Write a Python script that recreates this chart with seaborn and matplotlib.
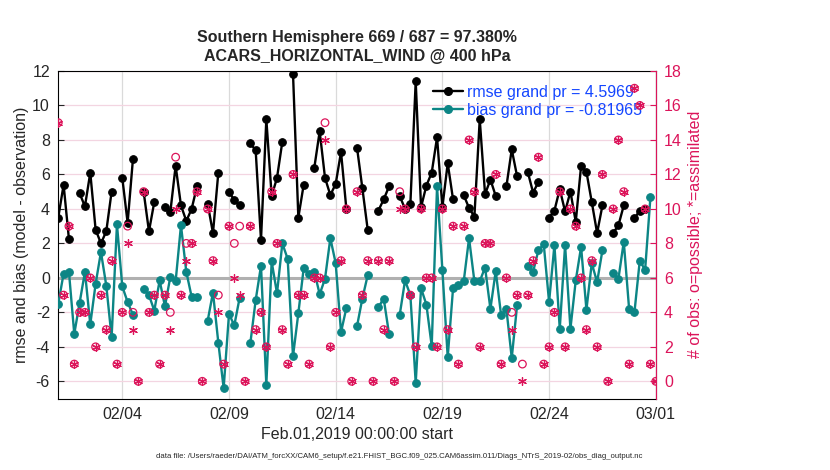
import numpy as np
import pandas as pd
import matplotlib
matplotlib.use("Agg")
import matplotlib.pyplot as plt
import matplotlib.dates as mdates
from matplotlib.lines import Line2D
import seaborn as sns

# dados (passo de 6 h a partir de 01/02/2019 00Z)
nan = np.nan
rmse = [3.5, 5.4, 2.25, nan, 4.9, 4.15, 6.1, 2.8, 2.0, 2.7,
        5.0, nan, 5.8, 3.2, 6.9, nan, 5.0, 2.7, 4.4, nan,
        4.1, 3.8, 6.5, 4.2, 3.3, 4.0, 5.3, nan, 4.3, 2.6,
        6.1, nan, 5.0, 4.5, 4.2, nan, 7.8, 7.4, 2.2, 9.2,
        4.75, 5.8, 7.9, nan, 11.85, 3.5, 5.4, nan, 6.4, 8.5,
        5.8, 4.8, 5.45, 7.3, 4.0, nan, 7.55, 5.2, 2.8, nan,
        3.9, 4.55, 5.3, nan, 4.75, 4.0, 4.3, 11.4, 4.1, 5.35,
        6.1, 8.15, 4.1, 6.65, 4.55, nan, 4.8, 4.05, 3.55, 9.2,
        4.85, 5.7, 4.75, nan, 5.3, 7.45, 5.9, nan, 6.15, 4.95,
        5.55, nan, 3.5, 3.9, 5.15, 3.85, 5.0, 3.25, 6.5, 6.15,
        4.4, 2.6, 4.2, nan, 2.6, 3.05, 4.2, nan, 3.45, 3.9,
        4.0, nan, nan]
bias = [-1.5, 0.25, 0.35, -3.25, -1.45, 0.35, -2.7, -0.35, 1.5, -0.45,
        -3.45, 3.1, -0.5, -1.4, -2.15, nan, -0.65, -1.0, -1.9, -0.15,
        -1.65, 0.05, -0.2, 3.05, 0.35, -1.1, -1.1, nan, -2.5, -0.85,
        -3.75, -6.4, -2.1, -2.75, -1.15, nan, -3.8, -1.3, 0.7, -6.2,
        0.95, -0.9, 2.0, 1.1, -4.55, -2.05, 0.55, 0.2, 0.35, -0.95,
        -0.05, 2.3, 0.85, -3.15, -1.75, nan, -2.8, -1.2, 0.15, nan,
        -1.7, -1.2, -3.25, nan, -2.15, -0.15, -1.0, -6.1, -0.6, -1.55,
        -3.95, 5.3, 0.45, -4.6, -0.6, -0.4, -0.2, 2.3, -0.2, -0.2,
        0.6, -1.8, 0.4, -2.15, -1.8, -4.65, -1.6, nan, 0.7, 0.35,
        1.6, 1.95, -1.4, 1.9, -2.95, 1.9, -2.95, -0.15, 1.8, -1.85,
        0.85, -0.25, 1.6, nan, 0.3, -0.05, 2.1, -1.8, -2.0, 1.0,
        0.45, 4.7, nan]
n_possivel = [15, 5, 9, 1, 4, 4, 6, 2, 5, 3,
              7, 1, 4, 9, 4, 0, 11, 4, 5, 1,
              5, 4, 13, 5, 8, 8, 11, 0, 10, 7,
              5, 1, 9, 8, 9, 0, 9, 3, 4, 2,
              11, 8, 3, 1, 12, 5, 5, 1, 6, 6,
              15, 2, 4, 7, 10, 0, 11, 5, 7, 0,
              7, 3, 7, 0, 11, 10, 5, 2, 10, 6,
              6, 2, 10, 3, 9, 1, 9, 14, 11, 2,
              8, 8, 12, 1, 6, 4, 5, 1, 5, 7,
              13, 1, 2, 4, 11, 2, 10, 9, 6, 3,
              7, 2, 12, 0, 10, 14, 11, 1, 17, 16,
              10, 1, 0]
n_assimilado = [15, 5, 9, 1, 4, 4, 6, 2, 5, 3,
                7, 1, 4, 8, 3, 0, 11, 4, 5, 1,
                5, 3, 10, 5, 7, 8, 11, 0, 10, 7,
                4, 1, 9, 6, 5, 0, 9, 3, 4, 2,
                11, 8, 3, 1, 12, 5, 5, 1, 6, 6,
                14, 2, 4, 7, 10, 0, 11, 5, 7, 0,
                7, 3, 7, 0, 10, 10, 5, 2, 10, 6,
                6, 2, 10, 3, 9, 1, 9, 14, 11, 2,
                8, 8, 12, 1, 6, 3, 5, 0, 5, 7,
                13, 1, 2, 4, 11, 2, 10, 9, 6, 3,
                7, 2, 12, 0, 10, 14, 11, 1, 17, 16,
                10, 1, 0]
rotulos_x = ["2019-02-04", "2019-02-09", "2019-02-14", "2019-02-19", "2019-02-24", "2019-03-01"]
legenda = ["rmse grand pr = 4.5969", "bias grand pr = -0.81965"]

tempo = pd.date_range("2019-02-01 00:00", periods=len(rmse), freq="6h")
df = pd.DataFrame({"tempo": tempo, "rmse": rmse, "bias": bias,
                   "possivel": n_possivel, "assimilado": n_assimilado})

rosa = "#dc145a"
verde = "#0c8585"
azul = "#1446ff"

sns.set_style("white")
plt.rcParams["font.family"] = ["Liberation Sans", "DejaVu Sans"]
plt.rcParams["axes.unicode_minus"] = False

fig = plt.figure(figsize=(8.3, 4.7), dpi=100)
ax = fig.add_axes([0.0702, 0.152, 0.7199, 0.697])

# grade: linhas verticais cinza e horizontais rosadas
for d in rotulos_x:
    ax.axvline(pd.Timestamp(d), color="#dadada", lw=0.9, zorder=0)
for v in range(-6, 13, 2):
    if v != 0:
        ax.axhline(v, color="#f3d5e1", lw=0.9, zorder=0)
ax.axhline(0, color="#b0b0b0", lw=2.2, zorder=1)


def segmentos(col):
    # quebra a linha onde falta valor
    sub = df[["tempo", col]].copy()
    sub["seg"] = sub[col].isna().cumsum()
    return sub.dropna()


sns.lineplot(data=segmentos("rmse"), x="tempo", y="rmse", units="seg", estimator=None,
             color="black", lw=1.7, marker="o", markersize=5.5, markeredgecolor="black",
             ax=ax, zorder=3)
sns.lineplot(data=segmentos("bias"), x="tempo", y="bias", units="seg", estimator=None,
             color=verde, lw=1.7, marker="o", markersize=5.5, markeredgecolor=verde,
             ax=ax, zorder=3)

ax.set_xlim(pd.Timestamp("2019-02-01"), pd.Timestamp("2019-03-01"))
ax.set_ylim(-7, 12)
ax.set_yticks(range(-6, 13, 2))
ax.set_xticks([pd.Timestamp(d) for d in rotulos_x])
ax.xaxis.set_major_formatter(mdates.DateFormatter("%m/%d"))
ax.tick_params(direction="in", length=4, width=0.8, labelsize=11.5, pad=6, top=False, right=False)
ax.set_xlabel("Feb.01,2019 00:00:00 start", fontsize=11.5, labelpad=4)
ax.set_ylabel("rmse and bias (model - observation)", fontsize=11.5, labelpad=2)
for s in ax.spines.values():
    s.set_color("black")
    s.set_linewidth(0.8)

total_p = int(np.sum(n_possivel))
total_a = int(np.sum(n_assimilado))
ax.set_title(f"Southern Hemisphere {total_a} / {total_p} = {100 * total_a / total_p:.3f}%\n"
             "ACARS_HORIZONTAL_WIND @ 400 hPa",
             fontsize=11.5, fontweight="bold", pad=7, linespacing=1.35)

handles = [Line2D([], [], color="black", lw=1.7, marker="o", markersize=5.5),
           Line2D([], [], color=verde, lw=1.7, marker="o", markersize=5.5)]
leg = ax.legend(handles, legenda, loc="upper left", bbox_to_anchor=(0.627, 0.958),
                frameon=False, fontsize=11.5, handlelength=1.9, handletextpad=0.25,
                labelspacing=0.2, borderaxespad=0, borderpad=0)
for t in leg.get_texts():
    t.set_color(azul)

# eixo da direita: contagem de observações
ax2 = ax.twinx()
sns.scatterplot(data=df, x="tempo", y="possivel", marker="o", s=30, facecolor="none",
                edgecolor=rosa, color=rosa, linewidth=0.9, ax=ax2, zorder=4)
sns.scatterplot(data=df, x="tempo", y="assimilado", marker=(6, 2, 0), s=32,
                color=rosa, linewidth=0.9, ax=ax2, zorder=4)
ax2.set_ylim(-1, 18)
ax2.set_yticks(range(0, 19, 2))
ax2.set_xlim(pd.Timestamp("2019-02-01"), pd.Timestamp("2019-03-01"))
ax2.tick_params(axis="y", direction="in", length=4, width=0.8, colors=rosa, labelsize=11.5, pad=6)
ax2.set_ylabel("# of obs: o=possible; *=assimilated", color=rosa, fontsize=11.5, labelpad=4.5)
ax2.set_xlabel("")
ax2.spines["right"].set_color(rosa)
ax2.spines["right"].set_linewidth(0.8)
ax2.spines["left"].set_visible(False)
ax2.spines["top"].set_visible(False)
ax2.spines["bottom"].set_visible(False)

fig.text(0.481, 1 - 456 / 470,
         "data file: /Users/raeder/DAI/ATM_forcXX/CAM6_setup/f.e21.FHIST_BGC.f09_025.CAM6assim.011/"
         "Diags_NTrS_2019-02/obs_diag_output.nc",
         fontsize=5.6, ha="center", va="center")

fig.savefig("out.png", dpi=100)
